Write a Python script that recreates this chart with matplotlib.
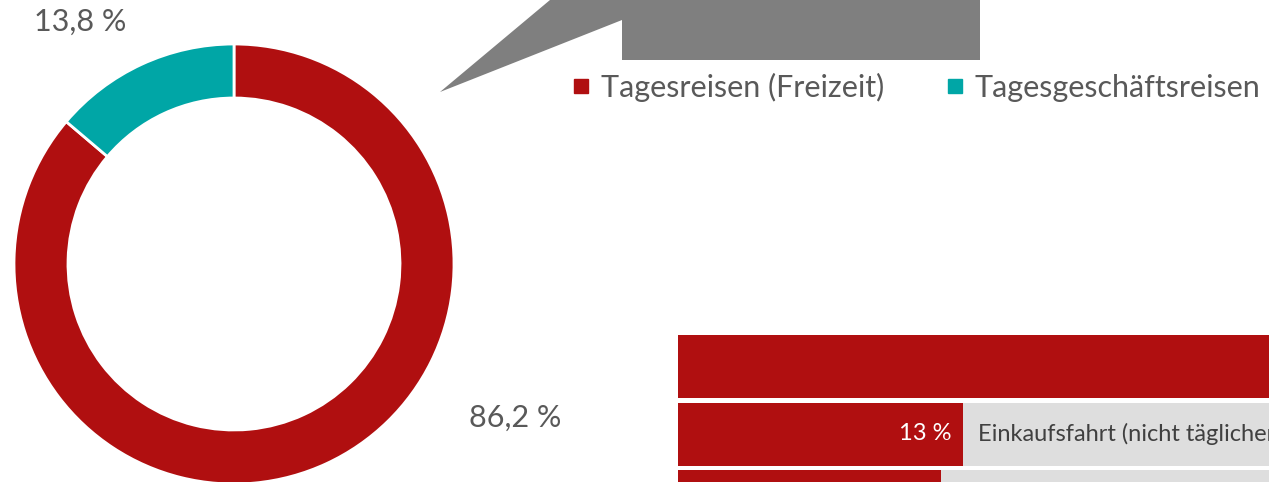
import matplotlib.pyplot as plt
from matplotlib.lines import Line2D
from matplotlib.patches import Polygon

plt.rcParams['font.family'] = ['Lato', 'DejaVu Sans']

# donut data
donut_labels = ['Tagesreisen (Freizeit)', 'Tagesgeschäftsreisen']
donut_values = [86.2, 13.8]
donut_texts = ['86,2 %', '13,8 %']

# bar data (only partly visible in the crop)
bar_categories = ['Besuch von Freunden/Verwandten', 'Einkaufsfahrt (nicht täglicher Bedarf)', 'Ausflugsfahrt']
bar_values = [38, 13, 12]

RED = '#B00F10'
TEAL = '#00A6A6'
GREY_TXT = '#595959'

W, H = 1269, 482
fig = plt.figure(figsize=(W / 100, H / 100), dpi=100)

# overlay axes in pixel units (y up)
ax = fig.add_axes([0, 0, 1, 1])
ax.pie(donut_values, colors=[RED, TEAL], startangle=90, counterclock=False,
       center=(234, H - 264), radius=220,
       wedgeprops=dict(width=54, edgecolor='white', linewidth=2))
ax.set_xlim(0, W)
ax.set_ylim(0, H)
ax.set_aspect('auto')
ax.axis('off')

ax.text(80, H - 22, donut_texts[1], fontsize=22, color=GREY_TXT, ha='center', va='center')
ax.text(515, H - 418, donut_texts[0], fontsize=22, color=GREY_TXT, ha='center', va='center')

# grey callout shape
callout = [(550, 0), (980, 0), (980, 60), (622, 60), (622, 20), (440, 92)]
ax.add_patch(Polygon([(x, H - y) for x, y in callout], closed=True,
                     facecolor='#7F7F7F', edgecolor='none'))

# legend
handles = [Line2D([], [], marker='s', linestyle='none', markersize=10, color=c)
           for c in (RED, TEAL)]
ax.legend(handles, donut_labels, loc='center left', bbox_to_anchor=(572 / W, (H - 87) / H),
          ncol=2, frameon=False, fontsize=22, labelcolor=GREY_TXT,
          handlelength=0.6, handletextpad=0.35, columnspacing=2.0, borderpad=0, borderaxespad=0)

# bars, axes extends past the right edge of the figure
px_per_pct = 21.9
row_h = 67.5
top = 366.5 - 0.5 * row_h
bottom = 366.5 + 2.5 * row_h
bx = fig.add_axes([678 / W, (H - bottom) / H, 100 * px_per_pct / W, (bottom - top) / H])
rows = range(len(bar_values))
bx.barh(rows, [100] * len(bar_values), height=63 / row_h, color='#DEDEDE')
bx.barh(rows, bar_values, height=63 / row_h, color=RED)
for i, (v, cat) in enumerate(zip(bar_values, bar_categories)):
    bx.text(v - 0.5, i, f'{v} %', color='white', fontsize=17, ha='right', va='center')
    bx.text(v + 0.7, i, cat, color='#404040', fontsize=17, ha='left', va='center')
bx.set_xlim(0, 100)
bx.set_ylim(2.5, -0.5)
bx.axis('off')

fig.savefig('out.png', dpi=100)
